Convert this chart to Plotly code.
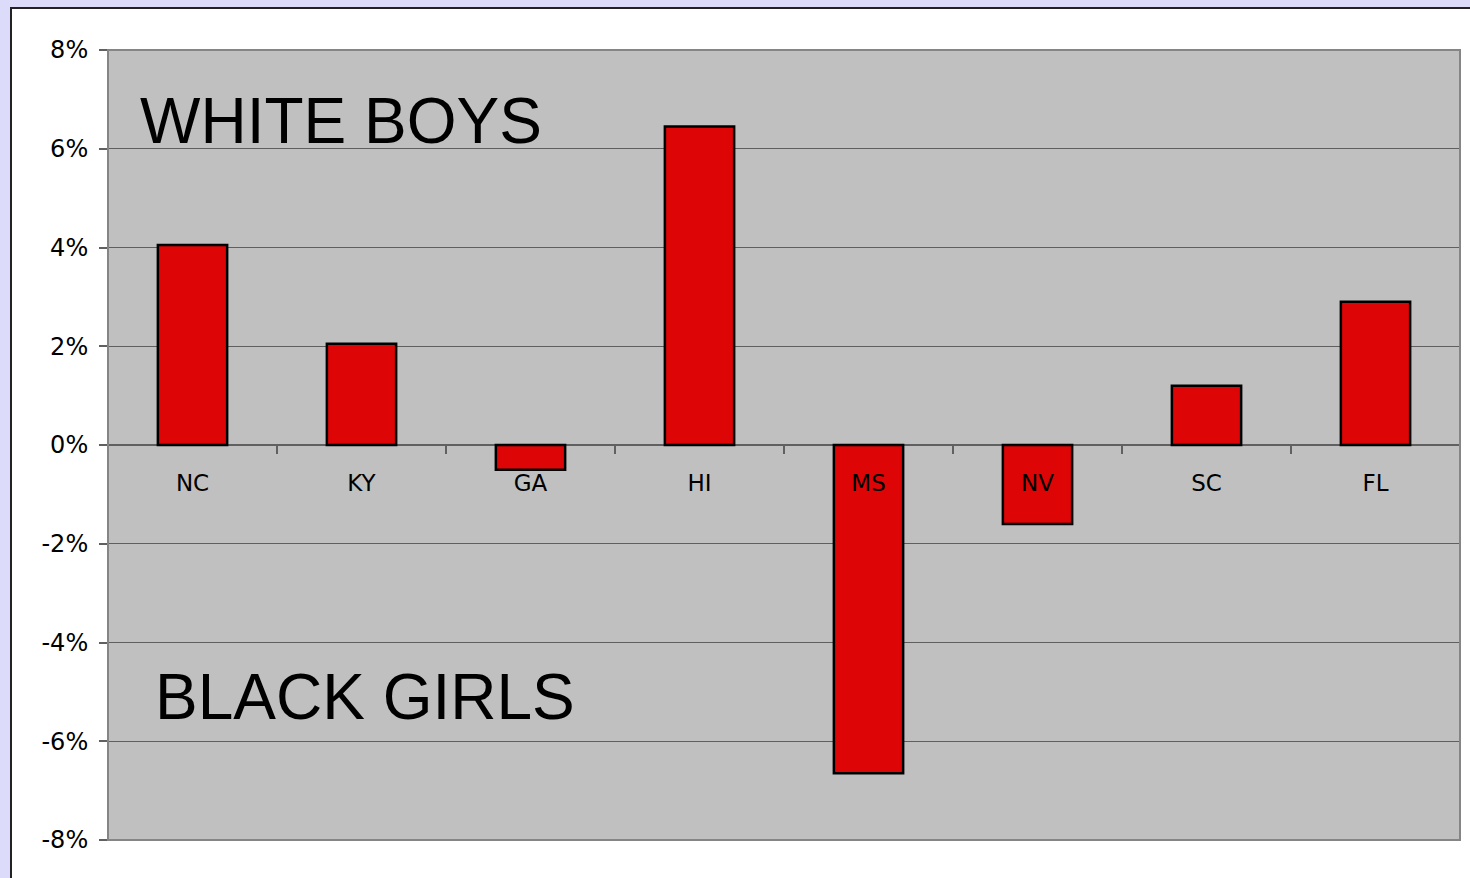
import plotly.graph_objects as go

states = ["NC", "KY", "GA", "HI", "MS", "NV", "SC", "FL"]
values = [4.05, 2.05, -0.5, 6.45, -6.65, -1.6, 1.2, 2.9]
y_ticks = [-8, -6, -4, -2, 0, 2, 4, 6, 8]
y_tick_labels = ["-8%", "-6%", "-4%", "-2%", "0%", "2%", "4%", "6%", "8%"]

W, H = 1470, 878
L, R, T, B = 108, 10, 50, 38
pw, ph = W - L - R, H - T - B

def px_x(x):
    return (x - L) / pw

def px_y(y):
    return (H - B - y) / ph

fig = go.Figure()
fig.add_trace(go.Bar(
    x=states, y=values,
    marker=dict(color="#dd0505", line=dict(color="black", width=2.5)),
    hoverinfo="skip",
))

fig.update_layout(
    width=W, height=H,
    margin=dict(l=L, r=R, t=T, b=B, pad=0),
    paper_bgcolor="#dcdcfa",
    plot_bgcolor="#c0c0c0",
    showlegend=False,
    bargap=0.59,
    font=dict(family="DejaVu Sans", size=24, color="black"),
    xaxis=dict(
        type="category",
        anchor="free", position=0.5,
        showgrid=False, zeroline=False, showline=False,
        ticks="outside", tickson="boundaries", ticklen=8, tickwidth=2,
        tickcolor="#606060",
        tickfont=dict(family="DejaVu Sans", size=23, color="black"),
        ticklabelstandoff=22,
        range=[-0.5, 7.5],
    ),
    yaxis=dict(
        range=[-8, 8],
        tickvals=y_ticks, ticktext=y_tick_labels,
        showgrid=True, gridcolor="#5f5f5f", gridwidth=1,
        zeroline=True, zerolinecolor="#606060", zerolinewidth=2,
        ticks="outside", ticklen=8, tickwidth=2, tickcolor="#606060",
        ticklabelstandoff=6,
        tickfont=dict(family="DejaVu Sans", size=24, color="black"),
        showline=False,
    ),
    shapes=[
        dict(type="rect", xref="paper", yref="paper", layer="below",
             x0=px_x(11), x1=1.2, y0=-0.2, y1=px_y(8),
             fillcolor="white", line=dict(color="#222222", width=2)),
        dict(type="rect", xref="paper", yref="paper", layer="below",
             x0=0, x1=1, y0=0, y1=1,
             fillcolor="#c0c0c0", line=dict(width=0)),
        dict(type="rect", xref="paper", yref="paper", layer="above",
             x0=0, x1=1, y0=0, y1=1,
             fillcolor="rgba(0,0,0,0)", line=dict(color="#858585", width=2)),
    ],
    annotations=[
        dict(text="WHITE BOYS", xref="paper", yref="paper",
             x=px_x(138), y=px_y(121), xanchor="left", yanchor="middle",
             showarrow=False,
             font=dict(family="Liberation Sans", size=64, color="black")),
        dict(text="BLACK GIRLS", xref="paper", yref="paper",
             x=px_x(153), y=px_y(697), xanchor="left", yanchor="middle",
             showarrow=False,
             font=dict(family="Liberation Sans", size=64, color="black")),
    ],
)

fig.write_html(
    "out.html",
    config={"displayModeBar": False},
    post_script="document.body.style.margin='0';document.body.style.background='#dcdcfa';",
)
